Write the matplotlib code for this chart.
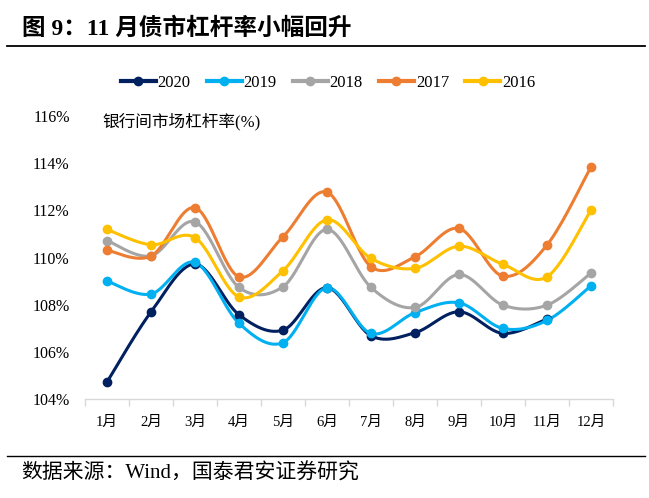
import matplotlib
matplotlib.use("Agg")
import matplotlib.pyplot as plt
import numpy as np
from matplotlib.lines import Line2D

plt.rcParams['font.family'] = ['Liberation Serif', 'Noto Sans CJK SC']

months = ['1月', '2月', '3月', '4月', '5月', '6月', '7月', '8月', '9月', '10月', '11月', '12月']
years = ['2020', '2019', '2018', '2017', '2016']
v2020 = [104.72, 107.69, 109.72, 107.57, 106.92, 108.72, 106.68, 106.81, 107.70, 106.78, 107.39]
v2019 = [109.00, 108.45, 109.79, 107.21, 106.39, 108.72, 106.78, 107.66, 108.08, 106.99, 107.33, 108.80]
v2018 = [110.72, 110.07, 111.51, 108.73, 108.76, 111.19, 108.73, 107.88, 109.28, 107.98, 107.98, 109.34]
v2017 = [110.31, 110.06, 112.11, 109.18, 110.88, 112.77, 109.61, 110.03, 111.23, 109.21, 110.53, 113.84]
v2016 = [111.19, 110.54, 110.84, 108.33, 109.44, 111.60, 109.96, 109.54, 110.48, 109.71, 109.18, 112.01]
series = [v2020, v2019, v2018, v2017, v2016]
colors = ['#002060', '#00B0F0', '#A5A5A5', '#ED7D31', '#FFC000']
yticks = [104, 106, 108, 110, 112, 114, 116]


def smooth(x, y, n=30):
    x = np.asarray(x, float); y = np.asarray(y, float)
    px, py = [x[0]], [y[0]]
    m = len(x)
    for i in range(m - 1):
        x0, y0 = (x[i - 1], y[i - 1]) if i > 0 else (x[i], y[i])
        x3, y3 = (x[i + 2], y[i + 2]) if i + 2 < m else (x[i + 1], y[i + 1])
        c1x = x[i] + (x[i + 1] - x0) / 6; c1y = y[i] + (y[i + 1] - y0) / 6
        c2x = x[i + 1] - (x3 - x[i]) / 6; c2y = y[i + 1] - (y3 - y[i]) / 6
        t = np.linspace(0, 1, n)[1:]
        bx = (1 - t) ** 3 * x[i] + 3 * (1 - t) ** 2 * t * c1x + 3 * (1 - t) * t ** 2 * c2x + t ** 3 * x[i + 1]
        by = (1 - t) ** 3 * y[i] + 3 * (1 - t) ** 2 * t * c1y + 3 * (1 - t) * t ** 2 * c2y + t ** 3 * y[i + 1]
        px.extend(bx); py.extend(by)
    return np.array(px), np.array(py)


fig = plt.figure(figsize=(6.49, 4.98), dpi=100)
ax = fig.add_axes([85 / 649, 1 - 399 / 498, 528 / 649, 283 / 498])

for vals, c in zip(series, colors):
    xs = np.arange(len(vals))
    sx, sy = smooth(xs, vals)
    ax.plot(sx, sy, color=c, lw=2.2, solid_capstyle='round', zorder=2)
    ax.plot(xs, vals, 'o', color=c, ms=6, zorder=3)

ax.set_xlim(-0.5, 11.5)
ax.set_ylim(104, 116)
ax.set_yticks(yticks)
ax.set_yticklabels([f'{t}%' for t in yticks], fontsize=11.5)
ax.set_xticks(np.arange(12))
ax.set_xticklabels(months, fontsize=10.5)
ax.set_xticks(np.arange(-0.5, 12, 1), minor=True)
ax.tick_params(axis='x', which='major', length=0, pad=12)
ax.tick_params(axis='x', which='minor', length=5, color='#D9D9D9', width=1)
ax.tick_params(axis='y', length=0, pad=11)
for s in ['top', 'right', 'left']:
    ax.spines[s].set_visible(False)
ax.spines['bottom'].set_color('#D9D9D9')
ax.spines['bottom'].set_linewidth(1)

ax.text(102 / 649, 1 - 122 / 498, '银行间市场杠杆率(%)', transform=fig.transFigure,
        fontsize=12, va='center', ha='left')

handles = [Line2D([0], [0], color=c, lw=3, marker='o', ms=6) for c in colors]
fig.legend(handles, years, loc='center', bbox_to_anchor=(328 / 649, 1 - 83 / 498), ncol=5,
           frameon=False, fontsize=12, handlelength=2.1, handletextpad=0.12, columnspacing=0.96)

fig.text(22 / 649, 1 - 29 / 498, '图 9：11 月债市杠杆率小幅回升', fontsize=17, fontweight='bold',
         va='center', ha='left')
fig.add_artist(Line2D([7 / 649, 645 / 649], [1 - 46 / 498, 1 - 46 / 498], color='black', lw=1.3,
                      transform=fig.transFigure))
fig.add_artist(Line2D([7 / 649, 645 / 649], [1 - 456 / 498, 1 - 456 / 498], color='black', lw=1.0,
                      transform=fig.transFigure))
fig.text(21 / 649, 1 - 474 / 498, '数据来源：Wind，国泰君安证券研究', fontsize=15, va='center', ha='left')

fig.savefig('out.png', dpi=100)
